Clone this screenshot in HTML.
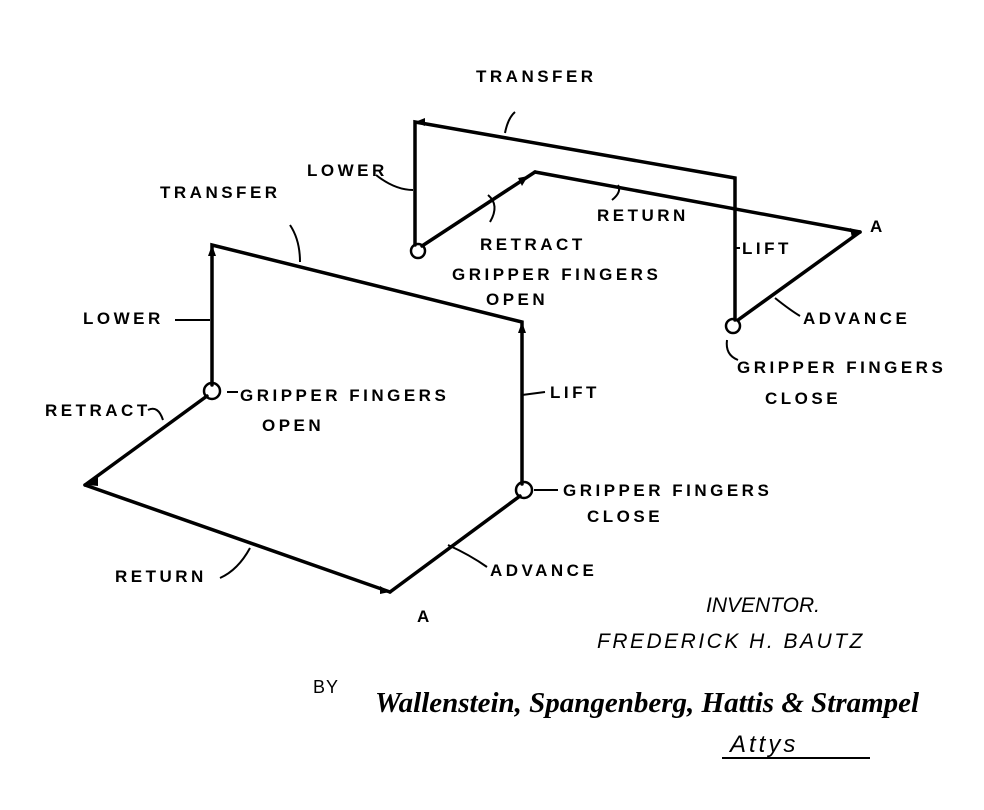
<!DOCTYPE html>
<html><head><style>
html,body{margin:0;padding:0;background:#fff;width:984px;height:810px;overflow:hidden}
text{font-family:"Liberation Sans",sans-serif;font-weight:bold;font-size:17px;fill:#000;letter-spacing:3.5px}
</style></head><body>
<svg width="984" height="810" viewBox="0 0 984 810" xmlns="http://www.w3.org/2000/svg">
<g stroke="#000" stroke-width="3.5" fill="none" stroke-linecap="round">
<polyline points="415,245 415,122 735,178 735,320"/>
<line x1="422" y1="246" x2="535" y2="172"/>
<line x1="535" y1="172" x2="860" y2="232"/>
<line x1="738" y1="320" x2="860" y2="232"/>
<circle cx="418" cy="251" r="7" stroke-width="2.5"/>
<circle cx="733" cy="326" r="7" stroke-width="2.5"/>
<polyline points="212,385 212,245 522,322 522,484"/>
<line x1="207" y1="396" x2="85" y2="485"/>
<line x1="85" y1="485" x2="390" y2="592"/>
<line x1="520" y1="496" x2="390" y2="592"/>
<circle cx="524" cy="490" r="8" stroke-width="2.5"/>
<circle cx="212" cy="391" r="8" stroke-width="2.5"/>
</g>
<g stroke="#000" stroke-width="2" fill="none">
<path d="M505,133 Q508,118 515,112"/>
<path d="M376,175 Q395,190 413,190"/>
<path d="M490,222 Q500,205 488,195"/>
<path d="M612,200 Q622,192 618,185"/>
<path d="M735,248 L740,248"/>
<path d="M775,298 Q790,310 800,316"/>
<path d="M727,340 Q725,355 738,360"/>
<path d="M300,262 Q300,240 290,225"/>
<path d="M175,320 L210,320"/>
<path d="M148,410 Q158,405 163,420"/>
<path d="M522,395 L545,392"/>
<path d="M448,545 Q470,555 487,567"/>
<path d="M220,578 Q238,570 250,548"/>
<path d="M227,392 L238,392"/>
<path d="M534,490 L558,490"/>
</g>
<g fill="#000">
<polygon points="415,122 425,118 425,126"/>
<polygon points="528,176 518,178 522,186"/>
<polygon points="212,245 208,256 216,256"/>
<polygon points="522,322 518,333 526,333"/>
<polygon points="88,485 98,476 98,486"/>
<polygon points="860,232 850,228 852,238"/>
<polygon points="390,592 380,586 380,594"/>
</g>
<g>
<text x="476" y="82" font-size="15">TRANSFER</text>
<text x="307" y="176">LOWER</text>
<text x="597" y="221">RETURN</text>
<text x="480" y="250">RETRACT</text>
<text x="452" y="280">GRIPPER FINGERS</text>
<text x="486" y="305">OPEN</text>
<text x="742" y="254">LIFT</text>
<text x="870" y="232">A</text>
<text x="803" y="324">ADVANCE</text>
<text x="737" y="373" font-size="16">GRIPPER FINGERS</text>
<text x="765" y="404">CLOSE</text>

<text x="160" y="198" font-size="15">TRANSFER</text>
<text x="83" y="324">LOWER</text>
<text x="45" y="416" font-size="15">RETRACT</text>
<text x="240" y="401">GRIPPER FINGERS</text>
<text x="262" y="431">OPEN</text>
<text x="550" y="398">LIFT</text>
<text x="563" y="496">GRIPPER FINGERS</text>
<text x="587" y="522">CLOSE</text>
<text x="490" y="576">ADVANCE</text>
<text x="115" y="582">RETURN</text>
<text x="417" y="622">A</text>

<text x="706" y="612" style="font-weight:normal;font-style:italic;font-size:21px;letter-spacing:0">INVENTOR.</text>
<text x="597" y="648" style="font-weight:normal;font-style:italic;font-size:21px;letter-spacing:2.5px">FREDERICK  H.  BAUTZ</text>
<text x="313" y="693" style="font-weight:normal;font-size:18px;letter-spacing:1px">BY</text>
<text x="375" y="712" style="font-family:'Liberation Serif',serif;font-style:italic;font-size:29px;letter-spacing:0">Wallenstein, Spangenberg, Hattis &amp; Strampel</text>
<text x="730" y="752" style="font-weight:normal;font-style:italic;font-size:24px;letter-spacing:3px">Attys</text>
</g>
<line x1="722" y1="758" x2="870" y2="758" stroke="#000" stroke-width="2"/>
</svg>
</body></html>
